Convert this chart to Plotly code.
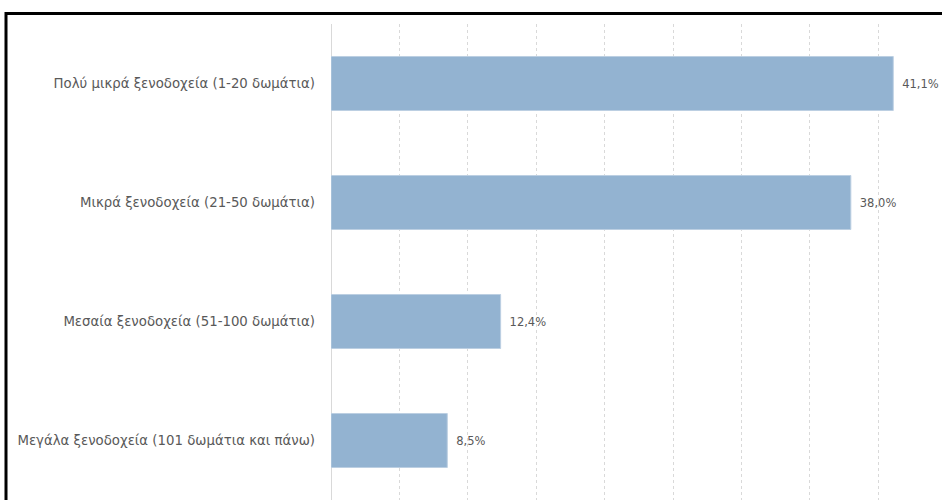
import plotly.graph_objects as go

categories = [
    "Πολύ μικρά ξενοδοχεία (1-20 δωμάτια)",
    "Μικρά ξενοδοχεία (21-50 δωμάτια)",
    "Μεσαία ξενοδοχεία (51-100 δωμάτια)",
    "Μεγάλα ξενοδοχεία (101 δωμάτια και πάνω)",
]
values = [41.1, 38.0, 12.4, 8.5]

W, H = 942, 500
L, T = 331, 24
pw = W - L
ph = H - T

fig = go.Figure(
    go.Bar(
        x=values,
        y=categories,
        orientation="h",
        marker=dict(color="#93b3d1", line=dict(color="#bccfe2", width=1)),
        texttemplate="\u00a0\u2009%{x:.1f}%",
        textposition="outside",
        textfont=dict(family="DejaVu Sans", size=11.5, color="#595959"),
        cliponaxis=False,
        hoverinfo="skip",
    )
)

fig.update_layout(
    width=W,
    height=H,
    margin=dict(l=L, r=0, t=T, b=0),
    paper_bgcolor="white",
    plot_bgcolor="white",
    separators=",.",
    bargap=0.546,
    showlegend=False,
    font=dict(family="DejaVu Sans", color="#595959"),
    xaxis=dict(
        range=[0, pw / 13.68],
        dtick=5,
        showticklabels=False,
        showgrid=True,
        gridcolor="#d9d9d9",
        griddash="3px,3px",
        gridwidth=1,
        zeroline=True,
        zerolinecolor="#d9d9d9",
        zerolinewidth=1,
        showline=False,
    ),
    yaxis=dict(
        autorange="reversed",
        showgrid=False,
        showline=False,
        zeroline=False,
        ticks="",
        ticklabelstandoff=15,
        tickfont=dict(family="DejaVu Sans", size=13.3, color="#595959"),
    ),
    shapes=[
        dict(
            type="rect",
            xref="paper",
            yref="paper",
            x0=(6 - L) / pw,
            x1=1.02,
            y0=-0.02,
            y1=1 + (T - 13.5) / ph,
            line=dict(color="black", width=3),
            fillcolor="rgba(0,0,0,0)",
            layer="above",
        )
    ],
)

fig.write_html(
    "out.html",
    config={"displayModeBar": False},
    post_script="document.body.style.margin='0';document.body.style.overflow='hidden';",
)
